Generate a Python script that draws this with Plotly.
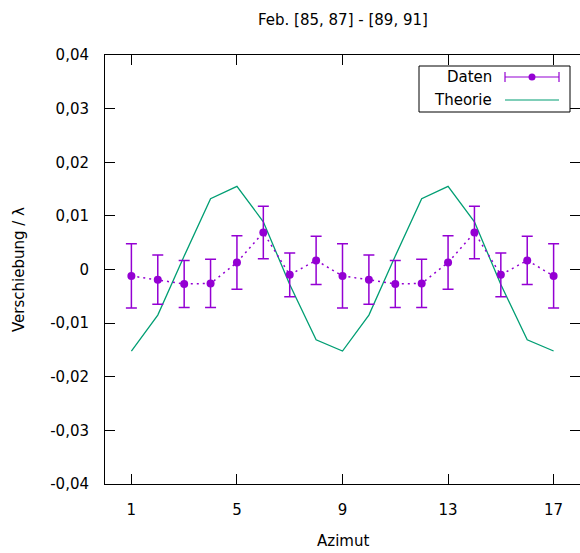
"""Feb. [85, 87] - [89, 91]: Verschiebung gegen Azimut (gnuplot-Stil)"""

import plotly.graph_objects as go

# ── Daten ────────────────────────────────────────────────
azimut = list(range(1, 18))
daten = [-0.0012, -0.0019, -0.0027, -0.0026, 0.0013, 0.0069, -0.0010, 0.0017,
         -0.0012, -0.0019, -0.0027, -0.0026, 0.0013, 0.0069, -0.0010, 0.0017,
         -0.0012]
fehler = [0.0060, 0.0046, 0.0044, 0.0045, 0.0050, 0.0049, 0.0041, 0.0045,
          0.0060, 0.0046, 0.0044, 0.0045, 0.0050, 0.0049, 0.0041, 0.0045,
          0.0060]
theorie = [-0.0152, -0.0085, 0.0025, 0.0132, 0.0155, 0.0089, -0.0028, -0.0131,
           -0.0152, -0.0085, 0.0025, 0.0132, 0.0155, 0.0089, -0.0028, -0.0131,
           -0.0152]

x_ticks = [1, 5, 9, 13, 17]
y_ticks = [-0.04, -0.03, -0.02, -0.01, 0, 0.01, 0.02, 0.03, 0.04]
y_ticktext = ["-0,04", "-0,03", "-0,02", "-0,01", "0", "0,01", "0,02", "0,03", "0,04"]

# ── Layout-Konstanten ────────────────────────────────────
W, H = 580, 553
L, R, T, B = 105, 0, 55, 69
FONT = "DejaVu Sans, Arial, sans-serif"
FS = 15
VIOLET = "#9400D3"
GREEN = "#009E73"


def px(x, y):
    """Pixel -> paper-Koordinaten."""
    return (x - L) / (W - L - R), (H - B - y) / (H - T - B)


fig = go.Figure()

fig.add_trace(go.Scatter(
    x=azimut, y=theorie, name="Theorie", mode="lines",
    line=dict(color=GREEN, width=1.3),
))
fig.add_trace(go.Scatter(
    x=azimut, y=daten, name="Daten", mode="lines+markers",
    line=dict(color=VIOLET, width=1.5, dash="2px,4px"),
    marker=dict(color=VIOLET, size=8),
    error_y=dict(type="data", array=fehler, color=VIOLET, thickness=1.5, width=5.5),
))

# ── Legende im gnuplot-Stil (Text links, Muster rechts) ──
shapes = []
x0, y0 = px(419, 66)
x1, y1 = px(570, 112)
shapes.append(dict(type="rect", xref="paper", yref="paper", x0=x0, y0=y0, x1=x1, y1=y1,
                   line=dict(color="black", width=1), fillcolor="white", layer="above"))


def seg(ax, ay, bx, by, color, width=1.2):
    p0 = px(ax, ay)
    p1 = px(bx, by)
    shapes.append(dict(type="line", xref="paper", yref="paper",
                       x0=p0[0], y0=p0[1], x1=p1[0], y1=p1[1],
                       line=dict(color=color, width=width), layer="above"))


seg(505, 77, 559, 77, VIOLET)
seg(505, 72, 505, 82, VIOLET)
seg(559, 72, 559, 82, VIOLET)
c0 = px(528.5, 73.5)
c1 = px(535.5, 80.5)
shapes.append(dict(type="circle", xref="paper", yref="paper", x0=c0[0], y0=c0[1],
                   x1=c1[0], y1=c1[1], fillcolor=VIOLET, line=dict(color=VIOLET, width=0),
                   layer="above"))
seg(505, 100, 559, 100, GREEN)

annotations = []
for label, yy in [("Daten", 77), ("Theorie", 100)]:
    ax, ay = px(494, yy)
    annotations.append(dict(text=label, x=ax, y=ay, xref="paper", yref="paper",
                            xanchor="right", yanchor="middle", showarrow=False,
                            font=dict(family=FONT, size=FS, color="black")))

# Achsentitel und Titel als Annotationen (exakte Position)
for text, (cx, cy), angle in [
    ("Feb. [85, 87] - [89, 91]", (343, 20), 0),
    ("Azimut", (343, 541), 0),
    ("Verschiebung / λ", (19, 270), -90),
]:
    ax, ay = px(cx, cy)
    annotations.append(dict(text=text, x=ax, y=ay, xref="paper", yref="paper",
                            xanchor="center", yanchor="middle", showarrow=False,
                            textangle=angle, font=dict(family=FONT, size=FS, color="black")))

fig.update_layout(
    width=W, height=H,
    margin=dict(l=L, r=R, t=T, b=B),
    paper_bgcolor="white", plot_bgcolor="white",
    font=dict(family=FONT, size=FS, color="black"),
    showlegend=False,
    shapes=shapes,
    annotations=annotations,
)
fig.update_xaxes(
    range=[0, 18], tickvals=x_ticks, ticks="inside", ticklen=10, tickcolor="black",
    showline=True, linecolor="black", linewidth=1, mirror="ticks", showgrid=False,
    zeroline=False, ticklabelstandoff=12,
)
fig.update_yaxes(
    range=[-0.04, 0.04], tickvals=y_ticks, ticktext=y_ticktext, ticks="inside",
    ticklen=10, tickcolor="black", showline=True, linecolor="black", linewidth=1,
    mirror="ticks", showgrid=False, zeroline=False, ticklabelstandoff=12,
)

fig.write_html("out.html", config={"displayModeBar": False},
               post_script="document.body.style.margin='0';")
